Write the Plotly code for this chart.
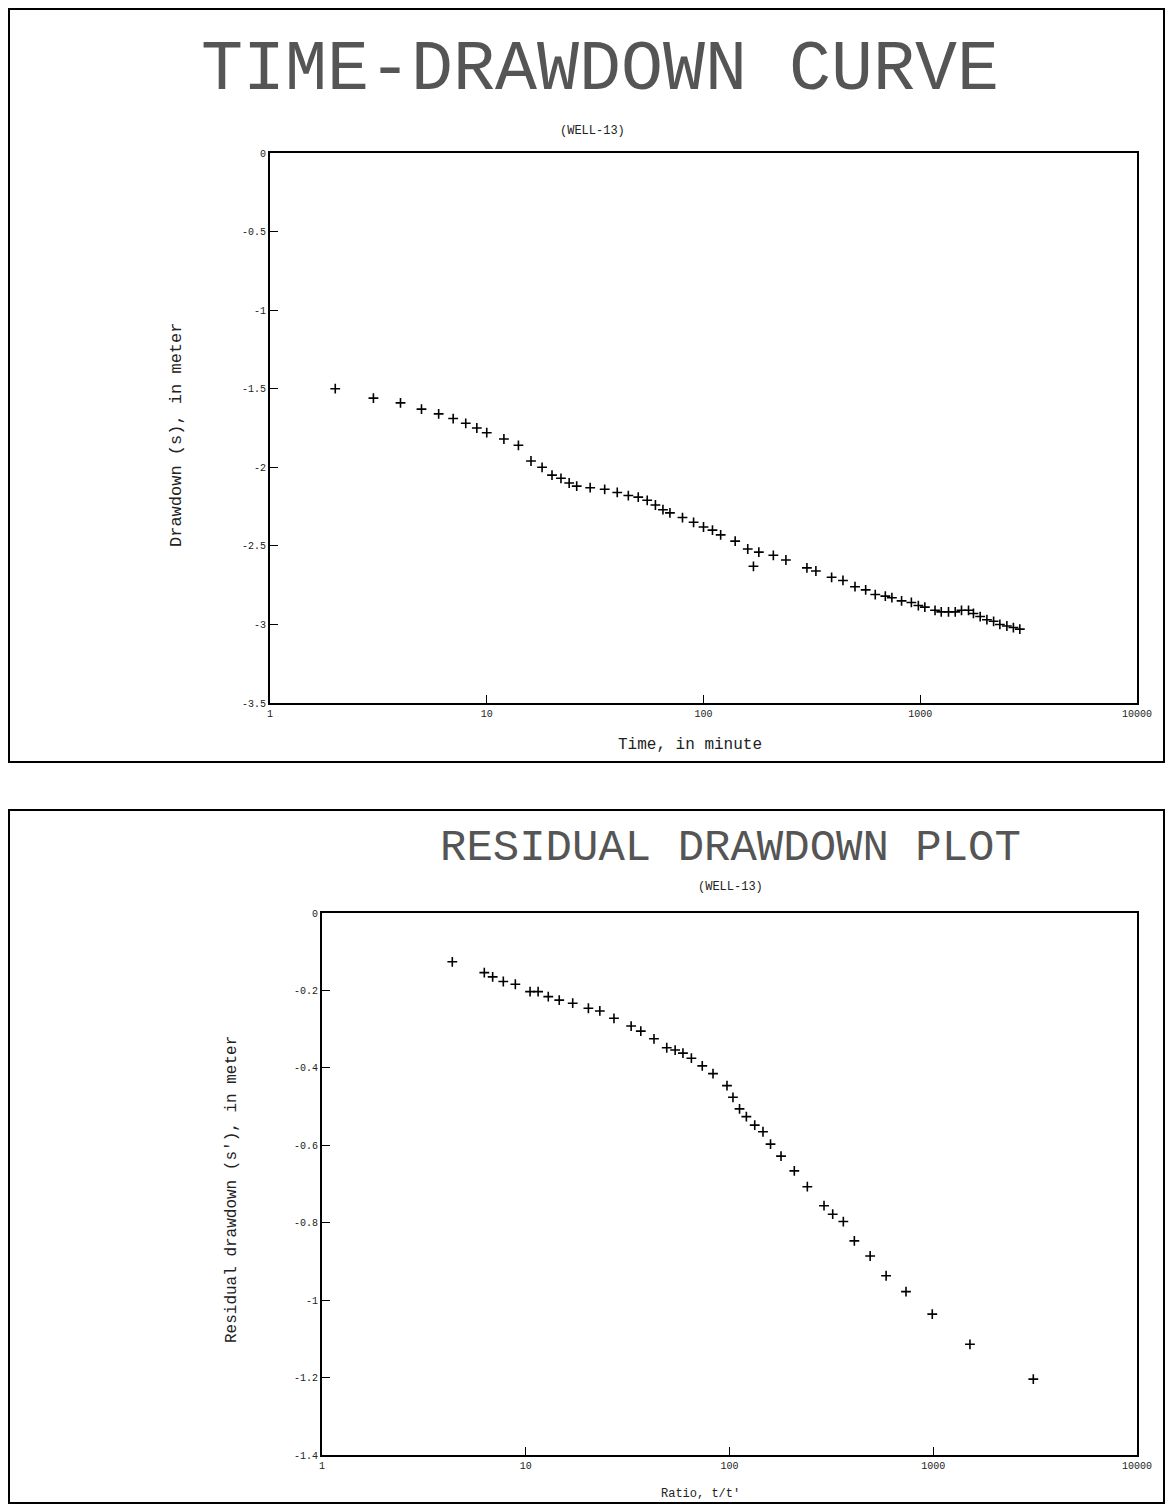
import plotly.graph_objects as go

# ---------------- data ----------------
# Time-drawdown (top panel)
time_min = [2, 3, 4, 5, 6, 7, 8, 9, 10, 12, 14, 16, 18, 20, 22, 24, 26, 30, 35, 40, 45,
            50, 55, 60, 65, 70, 80, 90, 100, 110, 120, 140, 160, 170, 180, 210, 240,
            300, 330, 390, 440, 500, 560, 620, 690, 740, 820, 910, 980, 1050, 1170,
            1250, 1350, 1450, 1550, 1670, 1760, 1890, 2030, 2180, 2330, 2510, 2690, 2880]
drawdown = [-1.50, -1.56, -1.59, -1.63, -1.66, -1.69, -1.72, -1.75, -1.78, -1.82, -1.86,
            -1.96, -2.00, -2.05, -2.07, -2.10, -2.12, -2.13, -2.14, -2.16, -2.18,
            -2.19, -2.21, -2.24, -2.27, -2.29, -2.32, -2.35, -2.38, -2.40, -2.43,
            -2.47, -2.52, -2.63, -2.54, -2.56, -2.59, -2.64, -2.66, -2.70, -2.72,
            -2.76, -2.78, -2.81, -2.82, -2.83, -2.85, -2.86, -2.88, -2.89, -2.91,
            -2.92, -2.92, -2.92, -2.91, -2.91, -2.93, -2.95, -2.97, -2.98, -3.00,
            -3.01, -3.02, -3.03]

# Residual drawdown (bottom panel)
ratio_t = [4.36, 6.26, 6.88, 7.76, 8.89, 10.5, 11.5, 12.9, 14.6, 17.0, 20.3, 23.1, 27.1,
           32.9, 36.7, 42.6, 49.2, 54.1, 59.1, 65.0, 73.5, 83.0, 97.2, 104, 112, 121,
           133, 146, 159, 179, 208, 241, 291, 321, 362, 410, 490, 587, 735, 989,
           1514, 3098]
residual = [-0.126, -0.154, -0.165, -0.177, -0.184, -0.203, -0.203, -0.216, -0.225,
            -0.233, -0.246, -0.253, -0.272, -0.292, -0.305, -0.325, -0.348, -0.354,
            -0.362, -0.375, -0.395, -0.415, -0.446, -0.476, -0.506, -0.526, -0.548,
            -0.565, -0.597, -0.628, -0.666, -0.707, -0.756, -0.778, -0.797, -0.847,
            -0.886, -0.937, -0.978, -1.036, -1.114, -1.204]

x_tickvals = [1, 10, 100, 1000, 10000]
x_ticktext = ["1", "10", "100", "1000", "10000"]
top_y_tickvals = [0, -0.5, -1, -1.5, -2, -2.5, -3, -3.5]
top_y_ticktext = ["0", "-0.5", "-1", "-1.5", "-2", "-2.5", "-3", "-3.5"]
bot_y_tickvals = [0, -0.2, -0.4, -0.6, -0.8, -1, -1.2, -1.4]
bot_y_ticktext = ["0", "-0.2", "-0.4", "-0.6", "-0.8", "-1", "-1.2", "-1.4"]

# ---------------- figure ----------------
OFF = 8                      # default page body margin
W, H = 1173 - 2 * OFF, 1512 - 2 * OFF
MONO = "Liberation Mono, DejaVu Sans Mono, monospace"


def fx(px):
    return (px - OFF) / W


def fy(py):
    return 1 - (py - OFF) / H


fig = go.Figure()
marker_style = dict(symbol="cross-thin", size=7, line=dict(color="black", width=1.6))
fig.add_trace(go.Scatter(x=time_min, y=drawdown, mode="markers", xaxis="x", yaxis="y",
                         marker=marker_style, showlegend=False))
fig.add_trace(go.Scatter(x=ratio_t, y=residual, mode="markers", xaxis="x2", yaxis="y2",
                         marker=marker_style, showlegend=False))

axis_common = dict(showline=True, linecolor="black", linewidth=2, mirror=True,
                   showgrid=False, zeroline=False, ticks="inside", ticklen=8,
                   tickcolor="black", tickwidth=1, automargin=False,
                   tickfont=dict(family=MONO, size=10, color="#222"))

fig.update_layout(
    template="none",
    width=W, height=H, margin=dict(l=0, r=0, t=0, b=0, autoexpand=False),
    paper_bgcolor="white", plot_bgcolor="white",
    xaxis=dict(type="log", range=[0, 4], domain=[fx(270), fx(1137)], anchor="y",
               tickvals=x_tickvals, ticktext=x_ticktext, **axis_common),
    yaxis=dict(range=[-3.5, 0], domain=[fy(703), fy(153)], anchor="x",
               tickvals=top_y_tickvals, ticktext=top_y_ticktext, **axis_common),
    xaxis2=dict(type="log", range=[0, 4], domain=[fx(322), fx(1137)], anchor="y2",
                tickvals=x_tickvals, ticktext=x_ticktext, **axis_common),
    yaxis2=dict(range=[-1.4, 0], domain=[fy(1455), fy(913)], anchor="x2",
                tickvals=bot_y_tickvals, ticktext=bot_y_ticktext, **axis_common),
)

# Frame boxes around each panel
fig.add_shape(type="rect", xref="paper", yref="paper",
              x0=fx(9), x1=fx(1164), y0=fy(762), y1=fy(9),
              line=dict(color="black", width=2))
fig.add_shape(type="rect", xref="paper", yref="paper",
              x0=fx(9), x1=fx(1164), y0=fy(1503), y1=fy(810),
              line=dict(color="black", width=2))


def note(text, px, py, size, angle=0, color="#222"):
    fig.add_annotation(text=text, x=fx(px), y=fy(py), xref="paper", yref="paper",
                       showarrow=False, textangle=angle, xanchor="center",
                       yanchor="middle", font=dict(family=MONO, size=size, color=color))


note("TIME-DRAWDOWN CURVE", 600, 70, 70, color="#555")
note("(WELL-13)", 592, 131, 12)
note("Drawdown (s), in meter", 177, 435, 17, angle=-90)
note("Time, in minute", 690, 745, 16)

note("RESIDUAL DRAWDOWN PLOT", 730, 848, 44, color="#555")
note("(WELL-13)", 730, 887, 12)
note("Residual drawdown (s'), in meter", 232, 1190, 16, angle=-90)
note("Ratio, t/t'", 700, 1494, 12)

fig.write_html("out.html")
